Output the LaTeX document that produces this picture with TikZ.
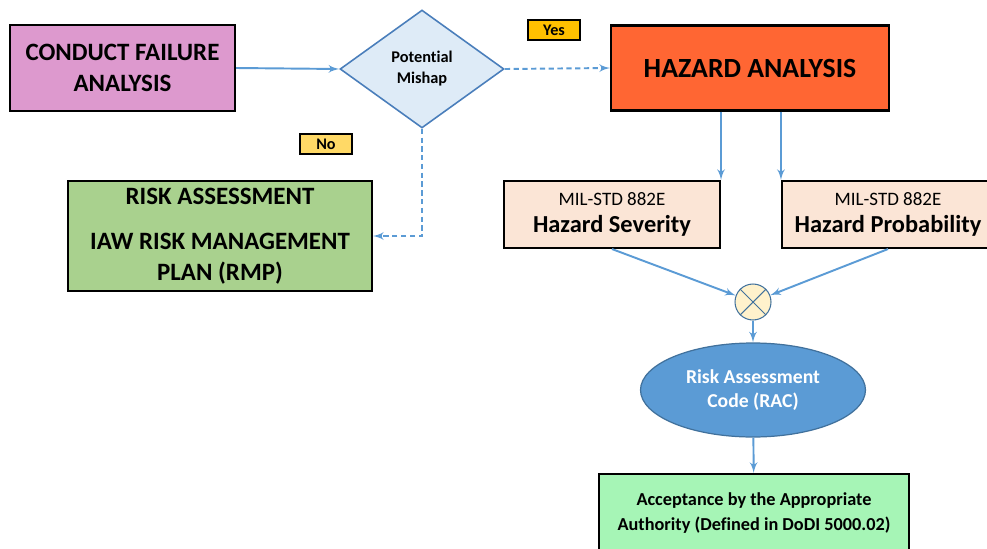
\documentclass[tikz,border=0pt]{standalone}
\usepackage{fontspec}
\setmainfont[Ligatures=NoCommon]{Carlito}
\usetikzlibrary{shapes,arrows,positioning}

\definecolor{failpink}{HTML}{DD99CE}
\definecolor{mishapblue}{HTML}{DEEBF7}
\definecolor{mishapline}{HTML}{4A7EBB}
\definecolor{hazorange}{HTML}{FF6633}
\definecolor{yesgold}{HTML}{FFC000}
\definecolor{nogold}{HTML}{FFD966}
\definecolor{rmpgreen}{HTML}{A9D18E}
\definecolor{peach}{HTML}{FBE5D6}
\definecolor{mulcream}{HTML}{FFF2CC}
\definecolor{linkblue}{HTML}{5B9BD5}
\definecolor{racline}{HTML}{41719C}
\definecolor{accgreen}{HTML}{A6F5B6}

\tikzset{
	box/.style={draw,line width=1.2pt,align=center,inner sep=0pt},
	tag/.style={draw,line width=0.6pt,font=\bfseries\fontsize{9.2}{10}\selectfont,minimum width=1.04cm,minimum height=0.4cm,inner sep=0pt},
	link/.style={->,>=latex',color=linkblue,line width=1.1pt},
	dashlink/.style={link,dash pattern=on 3pt off 2pt}
}

\begin{document}
\begin{tikzpicture}[x=0.02cm,y=-0.02cm]
	\useasboundingbox (0,0) rectangle (987,548);
	\clip (0,0) rectangle (987,548);

	\node[box,fill=failpink,minimum width=4.5cm,minimum height=1.72cm,font=\bfseries\fontsize{14.2}{17.5}\selectfont] (CFA) at (122.5,68) {CONDUCT FAILURE\\ANALYSIS};
	\node[diamond,draw=mishapline,line width=0.9pt,fill=mishapblue,minimum width=3.28cm,minimum height=2.36cm,inner sep=0pt,align=center,font=\bfseries\fontsize{9.3}{12}\selectfont] (PM) at (422,69) {Potential\\Mishap};
	\node[box,fill=hazorange,minimum width=5.56cm,minimum height=1.7cm,font=\bfseries\fontsize{15.8}{18}\selectfont] (HA) at (750,68) {HAZARD ANALYSIS};
	\node[tag,fill=yesgold] (YES) at (554,30) {Yes};
	\node[tag,fill=nogold] (NO) at (326,144) {No};
	\node[box,fill=rmpgreen,minimum width=6.08cm,minimum height=2.2cm,font=\bfseries\fontsize{14.2}{17.6}\selectfont] (RMP) at (220,236) {RISK ASSESSMENT\\[8pt]IAW RISK MANAGEMENT\\PLAN (RMP)};

	\foreach \name/\cx/\bw/\txt in {HS/612/4.32/Hazard Severity, HP/888/4.24/Hazard Probability}
		\node[box,fill=peach,minimum width=\bw cm,minimum height=1.34cm] (\name) at (\cx,214.5) {{\fontsize{10.8}{12}\selectfont MIL-STD 882E}\\[3pt]{\bfseries\fontsize{13.9}{16}\selectfont \txt}};

	\node[circle,draw=racline,line width=0.6pt,fill=mulcream,minimum size=0.72cm,inner sep=0pt] (MUL) at (753,302) {};
	\draw[racline,line width=0.6pt] (MUL.north west) -- (MUL.south east) (MUL.north east) -- (MUL.south west);
	\node[ellipse,draw=racline,line width=0.7pt,fill=linkblue,minimum width=4.5cm,minimum height=1.88cm,inner sep=0pt,align=center,text=white,font=\bfseries\fontsize{11.2}{14}\selectfont] (RAC) at (753,390) {Risk Assessment\\Code (RAC)};
	\node[box,fill=accgreen,minimum width=6.2cm,minimum height=1.56cm,font=\bfseries\fontsize{10.4}{14}\selectfont] (ACC) at (754,513) {Acceptance by the Appropriate\\Authority (Defined in DoDI 5000.02)};

	\draw[link] (CFA.east) -- (PM.west);
	\draw[dashlink] (PM.east) -- (HA.west);
	\draw[dashlink] (PM.south) |- (RMP.east);
	\draw[link] (HS.north east |- HA.south) -- (HS.north east);
	\draw[link] (HP.north west |- HA.south) -- (HP.north west);
	\draw[link] (HS.south) -- (MUL);
	\draw[link] (HP.south) -- (MUL);
	\draw[link] (MUL) -- (RAC);
	\draw[link] (RAC) -- (ACC);
\end{tikzpicture}
\end{document}
